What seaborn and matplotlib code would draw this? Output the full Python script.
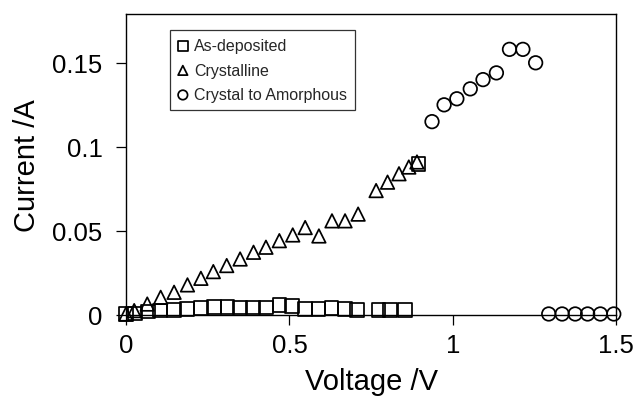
import matplotlib
matplotlib.use("Agg")
import matplotlib.pyplot as plt
import seaborn as sns
import pandas as pd
from matplotlib.ticker import FuncFormatter

# ---- data ----
as_dep_v = [0.0, 0.028, 0.067, 0.104, 0.147, 0.187, 0.229, 0.269, 0.310, 0.349,
            0.389, 0.428, 0.469, 0.507, 0.548, 0.589, 0.629, 0.670, 0.706, 0.772,
            0.808, 0.854, 0.894]
as_dep_i = [0.0006, 0.001, 0.002, 0.0026, 0.003, 0.0036, 0.004, 0.0046, 0.0046, 0.0045,
            0.0045, 0.0045, 0.006, 0.0055, 0.0036, 0.0036, 0.004, 0.0036, 0.003, 0.003,
            0.003, 0.003, 0.0899]

cryst_v = [0.0, 0.025, 0.065, 0.106, 0.147, 0.188, 0.229, 0.267, 0.308, 0.349,
           0.390, 0.428, 0.469, 0.510, 0.548, 0.590, 0.630, 0.670, 0.710, 0.765,
           0.800, 0.835, 0.865, 0.890]
cryst_i = [0.0006, 0.0026, 0.0065, 0.0105, 0.0135, 0.0179, 0.0218, 0.0258, 0.0294, 0.0333,
           0.0373, 0.0403, 0.0442, 0.0476, 0.052, 0.047, 0.056, 0.056, 0.060, 0.074,
           0.079, 0.084, 0.088, 0.091]

amor_v = [0.936, 0.973, 1.012, 1.053, 1.092, 1.133, 1.173, 1.214, 1.253,
          1.293, 1.334, 1.374, 1.412, 1.451, 1.492]
amor_i = [0.115, 0.125, 0.1286, 0.1345, 0.140, 0.144, 0.158, 0.158, 0.150,
          0.0006, 0.0006, 0.0006, 0.0006, 0.0006, 0.0006]

series_names = ["As-deposited", "Crystalline", "Crystal to Amorphous"]
series_markers = ["s", "^", "o"]
x_ticks = [0, 0.5, 1, 1.5]
y_ticks = [0, 0.05, 0.1, 0.15]

df = pd.concat([
    pd.DataFrame({"V": as_dep_v, "I": as_dep_i, "series": series_names[0]}),
    pd.DataFrame({"V": cryst_v, "I": cryst_i, "series": series_names[1]}),
    pd.DataFrame({"V": amor_v, "I": amor_i, "series": series_names[2]}),
])

sns.set_style("ticks")
plt.rcParams["font.family"] = ["Liberation Sans", "DejaVu Sans"]

fig = plt.figure(figsize=(6.41, 4.10), dpi=100)
ax = fig.add_axes([0.1966, 0.2293, 0.765, 0.734])

for name, mk in zip(series_names, series_markers):
    sub = df[df["series"] == name]
    sns.scatterplot(data=sub, x="V", y="I", ax=ax, marker=mk, s=95,
                    facecolor="none", edgecolor="black", linewidth=1.25,
                    label=name, clip_on=False, zorder=3, legend=False)

ax.set_xlim(0, 1.5)
ax.set_ylim(0, 0.179)
ax.set_xticks(x_ticks)
ax.set_yticks(y_ticks)
ax.xaxis.set_major_formatter(FuncFormatter(lambda v, p: f"{v:g}"))
ax.yaxis.set_major_formatter(FuncFormatter(lambda v, p: f"{v:g}"))
ax.tick_params(axis="both", direction="out", length=7, width=0.9, color="black",
               labelsize=18.5, labelcolor="black")
ax.tick_params(axis="y", pad=10)
ax.tick_params(axis="x", pad=6)
for sp in ax.spines.values():
    sp.set_visible(True)
    sp.set_color("black")
    sp.set_linewidth(1.0)

ax.set_xlabel("Voltage /V", fontsize=21, labelpad=7, color="black")
ax.set_ylabel("Current /A", fontsize=21, labelpad=8, color="black")

leg = ax.legend(loc="upper left", bbox_to_anchor=(0.0898, 0.947), borderaxespad=0,
                fontsize=11.5, frameon=True, fancybox=False, markerscale=0.7,
                handlelength=0.6, handletextpad=0.4, labelspacing=0.6,
                borderpad=0.5)
leg.get_frame().set_edgecolor("black")
leg.get_frame().set_linewidth(0.9)

fig.savefig("out.png", dpi=100)
